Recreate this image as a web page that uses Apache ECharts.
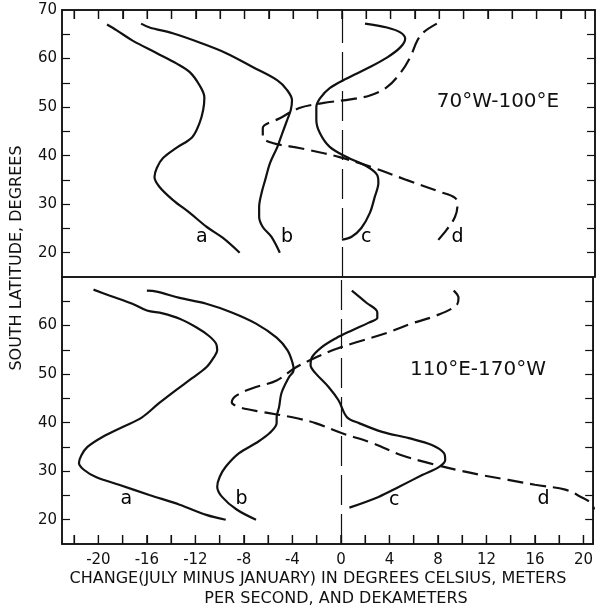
<!DOCTYPE html>
<html>
<head>
<meta charset="utf-8">
<script src="https://cdn.jsdelivr.net/npm/echarts@6/dist/echarts.min.js"></script>
<style>
  html, body { margin: 0; padding: 0; background: #fff; }
  #chart { width: 596px; height: 607px; }
</style>
</head>
<body>
<div id="chart"></div>
<script>
// Seasonal change (July minus January) profiles versus south latitude.
// Each curve is a list of [change, latitude] points.

// Sector 70°W-100°E
const topA = [[-19.3,67.0],[-18.5,65.8],[-17.2,63.7],[-15.2,61.1],[-13.6,59.0],[-12.5,57.2],[-11.7,54.5],[-11.3,52.0],[-11.4,49.4],[-11.7,46.7],[-12.3,43.8],[-13.6,41.6],[-14.7,39.5],[-15.2,37.5],[-15.4,35.6],[-15.0,33.6],[-13.9,30.9],[-12.5,28.2],[-11.1,25.3],[-9.8,23.1],[-8.4,20.0]];
const topB = [[-16.5,67.2],[-15.8,66.4],[-13.9,65.2],[-11.7,63.3],[-9.5,61.1],[-7.3,58.2],[-5.3,55.5],[-4.5,53.5],[-4.1,51.4],[-4.2,49.4],[-4.5,47.3],[-4.9,44.6],[-5.3,41.8],[-5.9,38.5],[-6.3,35.0],[-6.6,32.3],[-6.8,29.4],[-6.8,27.4],[-6.5,25.3],[-5.8,23.3],[-5.1,20.0]];
const topC = [[1.9,67.2],[3.7,66.4],[4.8,65.4],[5.2,64.1],[4.8,62.3],[3.7,60.2],[2.1,58.0],[0.4,55.9],[-1.0,53.9],[-1.8,51.8],[-2.1,50.0],[-2.1,47.3],[-1.8,44.6],[-1.0,41.8],[0.4,39.7],[2.1,37.7],[2.9,36.0],[3.0,34.4],[2.7,31.5],[2.3,28.2],[1.6,25.1],[0.8,23.3],[0.0,22.7]];
const topD = [[7.8,67.2],[6.7,65.4],[6.2,63.7],[5.6,60.2],[4.8,57.0],[3.7,54.1],[2.3,52.4],[0.7,51.6],[-1.6,50.8],[-3.5,49.8],[-5.1,47.7],[-6.5,45.7],[-6.5,43.8],[-5.7,42.6],[-4.0,41.8],[-2.6,41.1],[-0.2,39.7],[2.6,37.5],[5.3,35.0],[8.1,32.5],[9.3,31.3],[9.5,29.9],[9.3,27.4],[8.6,24.7],[7.8,22.3]];

// Sector 110°E-170°W
const botA = [[-20.4,67.4],[-19.1,66.2],[-17.2,64.5],[-16.0,63.1],[-14.7,62.5],[-13.3,61.4],[-11.9,59.6],[-10.9,57.9],[-10.3,56.3],[-10.2,54.9],[-10.5,53.4],[-11.1,51.4],[-12.3,49.1],[-13.6,46.7],[-15.0,44.0],[-16.4,41.1],[-18.0,39.1],[-19.7,37.0],[-20.9,35.0],[-21.4,33.3],[-21.6,31.7],[-21.2,30.3],[-20.2,28.8],[-18.3,27.2],[-15.8,25.1],[-13.3,23.1],[-11.1,21.0],[-9.5,20.0]];
const botB = [[-16.0,67.2],[-15.2,67.0],[-13.3,65.7],[-11.1,64.5],[-9.0,62.7],[-7.0,60.4],[-5.3,57.5],[-4.4,54.9],[-4.0,52.4],[-3.9,50.8],[-4.3,49.3],[-4.9,46.1],[-5.1,43.2],[-5.3,41.1],[-5.3,39.9],[-5.9,37.8],[-7.0,35.8],[-8.4,33.7],[-9.5,30.9],[-10.0,28.8],[-10.2,26.8],[-9.8,24.7],[-8.6,22.1],[-7.0,20.0]];
const botC = [[0.9,67.2],[2.1,64.7],[3.0,62.7],[3.0,61.6],[2.3,60.6],[0.9,59.0],[-0.4,57.4],[-1.6,55.5],[-2.4,53.4],[-2.5,51.8],[-2.1,50.2],[-1.0,47.3],[-0.2,44.6],[0.5,41.1],[1.5,39.9],[3.4,38.1],[5.6,36.8],[7.5,35.4],[8.5,33.7],[8.6,32.3],[8.1,30.9],[6.7,29.2],[4.8,26.8],[3.1,24.7],[0.7,22.5]];
const botD = [[9.3,67.2],[9.7,65.7],[9.5,64.1],[7.8,62.0],[5.8,60.4],[3.7,58.4],[1.2,56.5],[-0.7,54.9],[-2.6,52.8],[-3.7,51.4],[-5.3,48.7],[-7.3,47.1],[-8.6,45.6],[-9.0,44.2],[-8.4,43.2],[-6.5,42.2],[-4.0,41.1],[-2.1,39.9],[0.1,37.8],[2.6,35.8],[5.0,33.3],[7.2,31.7],[9.5,30.3],[11.6,29.2],[13.8,28.2],[16.0,27.2],[18.5,26.2],[19.8,24.7],[20.6,23.5],[20.9,22.1]];

// Curve letters and where they sit
const curveNames = ['a', 'b', 'c', 'd'];
const topLetterPos = [[-11.5,23.2],[-4.5,23.2],[2.0,23.2],[9.5,23.2]];
const botLetterPos = [[-17.7,24.3],[-8.2,24.3],[4.4,24.1],[16.7,24.3]];

// Panel headings
const sectorNames = ['70°W-100°E', '110°E-170°W'];

// Axis ticks and labels
const xTicks = [-22,-20,-18,-16,-14,-12,-10,-8,-6,-4,-2,0,2,4,6,8,10,12,14,16,18,20];
const xLabels = [-20,-16,-12,-8,-4,0,4,8,12,16,20];
const yTicksTop = [20,25,30,35,40,45,50,55,60,65];
const yLabelsTop = [20,30,40,50,60,70];
const yTicksBot = [20,25,30,35,40,45,50,55,60,65];
const yLabelsBot = [20,30,40,50,60];

const X_MIN = -23, X_MAX = 20.8, LAT_MIN = 15, LAT_MAX = 70;
const FONT = 'DejaVu Sans';
const INK = '#111';

const chart = echarts.init(document.getElementById('chart'), null, { renderer: 'canvas' });

function valueY(gridIndex, ticks, labels, position) {
  return {
    type: 'value', gridIndex, position, min: LAT_MIN, max: LAT_MAX,
    axisLine: { show: true, onZero: false, lineStyle: { color: INK, width: 1.5 } },
    axisTick: { show: true, inside: true, length: 8, customValues: ticks, lineStyle: { color: INK, width: 1.2 } },
    axisLabel: labels ? { show: true, customValues: labels, margin: 5, color: INK, fontFamily: FONT, fontSize: 15 } : { show: false },
    splitLine: { show: false }
  };
}

function valueX(gridIndex, position, labels) {
  return {
    type: 'value', gridIndex, position, min: X_MIN, max: X_MAX,
    axisLine: { show: true, onZero: false, lineStyle: { color: INK, width: 1.5 } },
    axisTick: { show: true, inside: true, length: 9, customValues: xTicks, lineStyle: { color: INK, width: 1.2 } },
    axisLabel: labels ? {
      show: true, customValues: labels, margin: 9, color: INK, fontFamily: FONT, fontSize: 15,
      formatter: v => (v < 0 ? '-' + Math.abs(v) : String(v))
    } : { show: false },
    splitLine: { show: false }
  };
}

// Tick marks along the bottom frame edge, drawn through the axis scale
function edgeTicks(xi, yi, edgeLat, dir) {
  return {
    type: 'custom', xAxisIndex: xi, yAxisIndex: yi, silent: true, clip: false, z: 10,
    encode: { x: 0, y: 1 },
    data: xTicks.map(v => [v, edgeLat]),
    renderItem: (params, api) => {
      const p = api.coord([api.value(0), api.value(1)]);
      return {
        type: 'line',
        shape: { x1: p[0], y1: p[1] + dir * 1, x2: p[0], y2: p[1] + dir * 9 },
        style: { stroke: INK, lineWidth: 1.3 }
      };
    }
  };
}

const zeroLine = {
  silent: true, symbol: 'none', animation: false,
  label: { show: false },
  lineStyle: { color: INK, width: 1.2, type: [30, 9] },
  data: [{ xAxis: 0 }]
};

function curve(data, xi, yi, dashed, withZero) {
  const s = {
    type: 'line', data, xAxisIndex: xi, yAxisIndex: yi,
    smooth: 0.35, showSymbol: false, symbol: 'none', clip: false,
    lineStyle: { color: INK, width: 2.2, type: dashed ? [16, 7] : 'solid' }
  };
  if (withZero) s.markLine = zeroLine;
  return s;
}

function letters(pos, xi, yi) {
  return {
    type: 'scatter', xAxisIndex: xi, yAxisIndex: yi, symbolSize: 0,
    itemStyle: { opacity: 1 },
    data: pos.map((p, i) => ({ value: p, name: curveNames[i] })),
    label: { show: true, position: 'inside', formatter: '{b}', color: '#000', opacity: 1, fontFamily: FONT, fontSize: 19 }
  };
}

const textGraphics = [
  { type: 'text', x: 498, y: 102, style: { text: sectorNames[0], align: 'center', verticalAlign: 'middle', fill: INK, font: '20px "DejaVu Sans"' } },
  { type: 'text', x: 478, y: 370, style: { text: sectorNames[1], align: 'center', verticalAlign: 'middle', fill: INK, font: '20px "DejaVu Sans"' } },
  { type: 'text', x: 17, y: 258, rotation: Math.PI / 2, style: { text: 'SOUTH LATITUDE, DEGREES', align: 'center', verticalAlign: 'middle', fill: INK, font: '16px "DejaVu Sans"' } },
  { type: 'text', x: 318, y: 579, style: { text: 'CHANGE(JULY MINUS JANUARY) IN DEGREES CELSIUS, METERS', align: 'center', verticalAlign: 'middle', fill: INK, font: '16px "DejaVu Sans"' } },
  { type: 'text', x: 336, y: 599, style: { text: 'PER SECOND, AND DEKAMETERS', align: 'center', verticalAlign: 'middle', fill: INK, font: '16px "DejaVu Sans"' } }
];

chart.setOption({
  animation: false,
  backgroundColor: '#fff',
  grid: [
    { left: 62, right: 1, top: 10, height: 267, show: true, borderColor: INK, borderWidth: 1.5 },
    { left: 62, right: 1, top: 277, height: 267, show: true, borderColor: INK, borderWidth: 1.5 }
  ],
  xAxis: [
    valueX(0, 'top', null),
    valueX(1, 'bottom', xLabels)
  ],
  yAxis: [
    valueY(0, yTicksTop, yLabelsTop, 'left'),
    valueY(0, yTicksTop, null, 'right'),
    valueY(1, yTicksBot, yLabelsBot, 'left'),
    valueY(1, yTicksBot, null, 'right')
  ],
  series: [
    curve(topA, 0, 0, false, true),
    curve(topB, 0, 0, false, false),
    curve(topC, 0, 0, false, false),
    curve(topD, 0, 0, true, false),
    curve(botA, 1, 2, false, true),
    curve(botB, 1, 2, false, false),
    curve(botC, 1, 2, false, false),
    curve(botD, 1, 2, true, false),
    letters(topLetterPos, 0, 0),
    letters(botLetterPos, 1, 2),
    edgeTicks(1, 2, LAT_MIN, -1)
  ],
  graphic: textGraphics
});

// Ticks hanging from the top frame edge, positioned by the top panel's scales
const topTickGraphics = xTicks.map(v => {
  const p = chart.convertToPixel({ gridIndex: 0 }, [v, LAT_MAX]);
  return {
    type: 'line', z: 100, silent: true,
    shape: { x1: p[0], y1: p[1] + 1, x2: p[0], y2: p[1] + 9 },
    style: { stroke: INK, lineWidth: 1.3 }
  };
});
chart.setOption({ graphic: textGraphics.concat(topTickGraphics) });
</script>
</body>
</html>
